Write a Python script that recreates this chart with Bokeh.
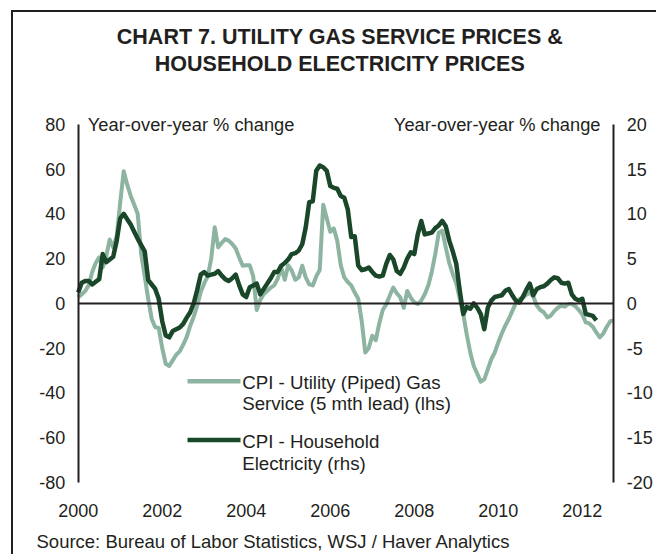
from bokeh.plotting import figure
from bokeh.models import Range1d, LinearAxis, FixedTicker, Label
from bokeh.embed import file_html
from bokeh.resources import INLINE

# ---------------- data ----------------
START_YEAR = 2000  # first month: January 2000, monthly data

# CPI - Utility (Piped) Gas Service, y/y %, shifted 5 months forward (lhs)
gas = [2.7, 4.0, 5.5, 8.0, 14.0, 18.0, 20.5, 16.0, 21.0, 28.5, 25.0, 30.0,
       45.0, 59.0, 53.0, 48.0, 44.0, 40.0, 22.0, 12.0, 2.0, -7.0, -10.7, -11.0,
       -20.0, -27.0, -28.0, -25.5, -23.0, -21.5, -18.5, -15.0, -10.0, -6.0, -1.0, 5.0,
       9.0, 12.0, 20.0, 34.0, 25.0, 27.0, 28.7, 28.0, 26.5, 24.5, 20.5, 16.8,
       17.0, 17.0, 12.0, -3.0, 1.5, 4.2, 5.5, 7.0, 8.0, 11.0, 16.0, 10.5,
       17.0, 14.6, 10.5, 11.6, 16.8, 11.6, 8.5, 8.0, 12.0, 15.0, 44.0, 38.0,
       32.0, 33.5, 28.0, 17.0, 11.6, 9.5, 8.0, 4.8, 2.0, -8.0, -22.0, -20.0,
       -14.5, -16.5, -9.0, -3.0, -0.5, 3.5, 7.0, 4.5, 2.7, -2.0, 5.5, 2.5,
       0.5, -0.3, 1.2, 4.0, 8.0, 14.0, 22.0, 31.5, 32.4, 25.0, 18.0, 13.0,
       9.0, 2.0, -4.8, -14.0, -22.0, -28.0, -31.5, -35.0, -34.0, -29.5, -25.0, -22.0,
       -17.5, -13.5, -10.0, -7.0, -3.5, 0.0, 1.9, 2.5, 3.8, 4.8, 3.0, -1.0,
       -3.0, -4.0, -6.3, -5.5, -3.5, -2.0, -1.0, -1.5, -0.3, -0.3, -1.3, -3.0,
       -5.0, -8.5, -9.0, -10.5, -13.0, -15.2, -13.5, -10.5, -8.0, -7.7]

# CPI - Household Electricity, y/y % (rhs)
elec = [1.2, 2.3, 2.5, 2.5, 2.1, 2.4, 2.7, 5.5, 4.6, 4.9, 5.2, 7.0,
        9.5, 10.0, 9.4, 8.8, 8.0, 7.2, 6.5, 5.8, 2.6, 2.1, 1.6, 0.5,
        -2.0, -3.6, -3.8, -3.1, -2.9, -2.7, -2.3, -1.6, -1.0, 0.0, 1.5, 3.2,
        3.5, 3.1, 3.2, 3.3, 3.6, 3.1, 2.7, 2.5, 2.8, 3.2, 2.0, 1.0,
        0.7, 1.8, 2.0, 2.2, 1.0, 1.6, 2.2, 2.8, 3.5, 3.5, 4.2, 4.5,
        4.9, 5.5, 5.6, 5.9, 6.6, 8.5, 11.3, 11.4, 14.8, 15.4, 15.2, 14.8,
        13.1, 12.9, 12.8, 12.0, 11.8, 10.5, 7.4, 7.5, 4.2, 3.7, 3.8, 4.0,
        3.5, 3.1, 3.0, 3.1, 4.4, 5.4, 4.9, 3.6, 3.3, 4.0, 5.0, 5.7,
        5.5, 7.7, 9.2, 7.7, 7.8, 7.9, 8.4, 8.7, 9.2, 8.6, 7.0, 5.8,
        4.4, 1.4, -1.2, -0.4, -0.6, 0.0, -0.5, -1.2, -2.9, -0.5, 0.3, 0.7,
        0.8, 0.9, 1.4, 1.6, 0.9, 0.3, 0.1, 0.7, 1.5, 2.2, 0.9, 1.6,
        1.8, 1.9, 2.2, 2.6, 2.9, 2.8, 2.3, 2.2, 2.3, 1.0, 0.5, 0.3,
        0.5, -1.2, -1.3, -1.4, -1.9]

x_ticks = [2000, 2002, 2004, 2006, 2008, 2010, 2012]
x_tick_labels = ["2000", "2002", "2004", "2006", "2008", "2010", "2012"]
left_ticks = [-80, -60, -40, -20, 0, 20, 40, 60, 80]
left_tick_labels = ["-80", "-60", "-40", "-20", "0", "20", "40", "60", "80"]
right_ticks = [-20, -15, -10, -5, 0, 5, 10, 15, 20]
right_tick_labels = ["-20", "-15", "-10", "-5", "0", "5", "10", "15", "20"]

title_lines = ["CHART 7. UTILITY GAS SERVICE PRICES &", "HOUSEHOLD ELECTRICITY PRICES"]
gas_label = ["CPI - Utility (Piped) Gas", "Service (5 mth lead) (lhs)"]
elec_label = ["CPI - Household", "Electricity (rhs)"]
axis_title = "Year-over-year % change"
source_text = "Source: Bureau of Labor Statistics, WSJ / Haver Analytics"

# ---------------- styling / layout ----------------
INK = "#231f20"
LIGHT = "#8db3a1"
DARK = "#1a4629"
FONT = "Liberation Sans"

gas_x = [START_YEAR + i / 12 for i in range(len(gas))]
elec_x = [START_YEAR + i / 12 for i in range(len(elec))]
X_END = START_YEAR + (len(gas) - 1) / 12
Y_MIN, Y_MAX = left_ticks[0], left_ticks[-1]
R_MIN, R_MAX = right_ticks[0], right_ticks[-1]

W, H = 645, 544
OX, OY = 13, 12                  # canvas origin on the page (px)
PX_LEFT, PX_RIGHT = 77.7, 613.3  # page px of the two value axes
PY_TOP, PY_BOT = 123.8, 481.8    # page px of +80 / -80

XS = (PX_RIGHT - PX_LEFT) / (X_END - START_YEAR)
YS = (PY_BOT - PY_TOP) / (Y_MAX - Y_MIN)


def dx(px):
    return START_YEAR + (px - PX_LEFT) / XS


def dy(py):
    return Y_MAX - (py - PY_TOP) / YS


x_lo, x_hi = dx(OX), dx(OX + W)
y_hi, y_lo = dy(OY), dy(OY + H)
ratio = (R_MAX - R_MIN) / (Y_MAX - Y_MIN)

p = figure(width=W, height=H,
           x_range=Range1d(x_lo, x_hi), y_range=Range1d(y_lo, y_hi),
           x_axis_location=None, y_axis_location=None,
           output_backend="svg", toolbar_location=None,
           min_border=0, min_border_left=0, min_border_right=0,
           min_border_top=0, min_border_bottom=0,
           background_fill_color="white", border_fill_color="white",
           outline_line_color=None,
           styles={"border-left": f"2px solid {INK}", "border-top": f"2px solid {INK}",
                   "margin-left": "11px", "margin-top": "10px"})
p.title.visible = False
p.extra_y_ranges = {"rhs": Range1d(y_lo * ratio, y_hi * ratio)}
for g in p.grid:
    g.visible = False


def style_axis(ax, ticks, labels, standoff):
    ax.ticker = FixedTicker(ticks=ticks)
    ax.major_label_overrides = {t: s for t, s in zip(ticks, labels)}
    ax.major_tick_line_color = None
    ax.minor_tick_line_color = None
    ax.major_tick_in = 0
    ax.major_tick_out = 0
    ax.minor_tick_in = 0
    ax.minor_tick_out = 0
    ax.major_label_standoff = standoff
    ax.major_label_text_font = FONT
    ax.major_label_text_font_size = "18px"
    ax.major_label_text_color = INK


# bottom axis: year labels only
xa = LinearAxis(fixed_location=Y_MIN, bounds=(START_YEAR, X_END))
style_axis(xa, x_ticks, x_tick_labels, 22)
xa.axis_line_color = None
p.add_layout(xa, "below")

# zero line drawn as a bare axis line
za = LinearAxis(fixed_location=0, bounds=(START_YEAR, X_END))
style_axis(za, [], [], 0)
za.axis_line_color = INK
za.axis_line_width = 2
za.major_label_text_color = None
p.add_layout(za, "below")

# left value axis
ya = LinearAxis(fixed_location=START_YEAR, bounds=(Y_MIN, Y_MAX))
style_axis(ya, left_ticks, left_tick_labels, 13)
ya.axis_line_color = INK
ya.axis_line_width = 2
p.add_layout(ya, "left")

# right value axis
ra = LinearAxis(y_range_name="rhs", fixed_location=X_END, bounds=(R_MIN, R_MAX))
style_axis(ra, right_ticks, right_tick_labels, 13)
ra.axis_line_color = INK
ra.axis_line_width = 2
p.add_layout(ra, "right")

p.line(gas_x, gas, line_color=LIGHT, line_width=4, line_join="round")
p.line(elec_x, elec, line_color=DARK, line_width=4.5, line_join="round",
       y_range_name="rhs")

# legend samples
p.line([dx(187), dx(240)], [dy(380.7), dy(380.7)], line_color=LIGHT, line_width=4.5)
p.line([dx(187), dx(240)], [dy(439.5), dy(439.5)], line_color=DARK, line_width=4.5)


def add_text(x, y, text, size, align="left", bold=False):
    p.add_layout(Label(x=x, y=y, text=text, text_align=align, text_baseline="middle",
                       text_font=FONT, text_font_size=size, text_color=INK,
                       text_font_style="bold" if bold else "normal"))


add_text(dx(339.5), dy(36.7), title_lines[0], "21.5px", "center", True)
add_text(dx(339.5), dy(63.3), title_lines[1], "21.5px", "center", True)
add_text(dx(87.3), dy(124), axis_title, "18.3px")
add_text(dx(600), dy(124), axis_title, "18.3px", "right")
add_text(dx(241.7), dy(381.7), gas_label[0], "18.7px")
add_text(dx(241.7), dy(402.7), gas_label[1], "18.7px")
add_text(dx(241.7), dy(441), elec_label[0], "18.7px")
add_text(dx(241.7), dy(462.7), elec_label[1], "18.7px")
add_text(dx(36), dy(540.7), source_text, "18.5px")

open("out.html", "w").write(file_html(p, INLINE))
